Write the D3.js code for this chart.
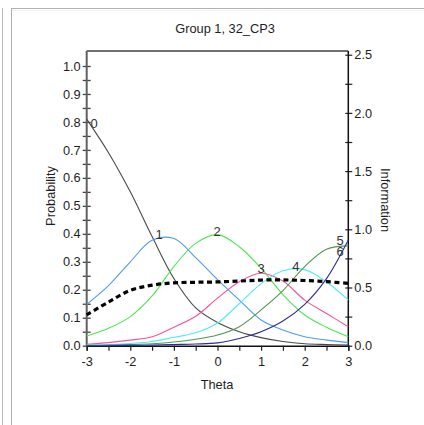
<!DOCTYPE html>
<html lang="en">
<head>
  <meta charset="UTF-8" />
  <title>Group 1, 32_CP3</title>
  <script src="https://d3js.org/d3.v7.min.js"></script>
  <style>
    body { margin: 0; background: #fff; font-family: "Liberation Sans", Arial, sans-serif; }
    svg { display: block; }
    .curve { fill: none; stroke-width: 1.1px; }
    .info { fill: none; stroke: #000; stroke-width: 3.2px; stroke-dasharray: 5 3.5; }
    .lbl { font-size: 13px; fill: #333; text-anchor: middle; }
  </style>
</head>
<body>
  <svg id="chart" width="424" height="425"></svg>

  <script>
    // theta grid and category response probabilities
    const theta = [-3, -2.5, -2, -1.5, -1, -0.5, 0, 0.5, 1, 1.5, 2, 2.5, 3];
    const cat0 = [0.81, 0.69, 0.55, 0.39, 0.24, 0.135, 0.083, 0.05, 0.029, 0.015, 0.007, 0.004, 0.002];
    const cat1 = [0.148, 0.215, 0.30, 0.377, 0.383, 0.315, 0.236, 0.163, 0.092, 0.056, 0.032, 0.02, 0.011];
    const cat2 = [0.035, 0.062, 0.104, 0.178, 0.283, 0.366, 0.397, 0.354, 0.277, 0.183, 0.11, 0.066, 0.032];
    const cat3 = [0.005, 0.011, 0.02, 0.032, 0.066, 0.105, 0.17, 0.229, 0.259, 0.231, 0.163, 0.115, 0.068];
    const cat4 = [0.002, 0.004, 0.008, 0.015, 0.03, 0.046, 0.081, 0.15, 0.222, 0.268, 0.272, 0.228, 0.163];
    const cat5 = [0.001, 0.002, 0.004, 0.007, 0.013, 0.023, 0.038, 0.068, 0.128, 0.197, 0.283, 0.345, 0.357];
    const cat6 = [0, 0, 0.001, 0.002, 0.004, 0.006, 0.01, 0.026, 0.05, 0.088, 0.148, 0.24, 0.378];
    const information = [0.265, 0.375, 0.475, 0.52, 0.54, 0.545, 0.548, 0.555, 0.564, 0.565, 0.56, 0.55, 0.536];

    const categories = ['0', '1', '2', '3', '4', '5', '6'];
    const series = [cat0, cat1, cat2, cat3, cat4, cat5, cat6];
    const colors = ['#4a4a4a', '#4f9bf2', '#4ee84e', '#f7529c', '#4eeef0', '#4f9a4f', '#2c2c9c'];
    // where each category number sits (theta, probability)
    const labelTheta = [-2.83, -1.34, -0.01, 1.0, 1.8, 2.81, 2.81];
    const labelProb = [0.778, 0.383, 0.392, 0.26, 0.267, 0.36, 0.319];

    const xTicks = [-3, -2.5, -2, -1.5, -1, -0.5, 0, 0.5, 1, 1.5, 2, 2.5, 3];
    const probTicks = d3.range(0, 1.0001, 0.05);
    const infoTicks = d3.range(0, 2.5001, 0.25);

    const svg = d3.select('#chart');
    const pLeft = 86.7, pRight = 348.3, pTop = 51, pBottom = 345.7;
    const fontSize = 12.8;

    const x = d3.scaleLinear().domain([-3, 3]).range([pLeft, pRight]);
    const yP = d3.scaleLinear().domain([0, 1]).range([pBottom, 66]);
    const yI = d3.scaleLinear().domain([0, 2.5]).range([pBottom, 54.7]);

    // window frame
    svg.append('line').attr('x1', 2.5).attr('x2', 2.5).attr('y1', 8).attr('y2', 425).attr('stroke', '#b8b8b8');
    svg.append('rect').attr('x', 11.5).attr('y', 8.5).attr('width', 430).attr('height', 430)
      .attr('fill', '#fff').attr('stroke', '#b0b0b0');
    svg.append('line').attr('x1', 12).attr('x2', 424).attr('y1', 10.5).attr('y2', 10.5).attr('stroke', '#f0f0f0');

    // title
    svg.append('text').attr('x', 225).attr('y', 33).attr('text-anchor', 'middle')
      .attr('font-size', fontSize).attr('fill', '#1e1e1e').text('Group 1, 32_CP3');

    // top frame line
    svg.append('line').attr('x1', pLeft).attr('x2', pRight).attr('y1', pTop).attr('y2', pTop)
      .attr('stroke', '#707070').attr('stroke-width', 2);

    function styleTicks(g) {
      g.attr('font-size', fontSize).attr('font-family', '"Liberation Sans", Arial, sans-serif');
      g.selectAll('.tick text').attr('fill', '#1e1e1e');
    }

    // left axis: ticks cross the line
    const gl = svg.append('g').attr('transform', `translate(${pLeft},0)`);
    gl.call(d3.axisLeft(yP).tickValues(probTicks).tickSize(4).tickPadding(2)
      .tickFormat(d => Math.round(d * 100) % 10 === 0 ? d3.format('.1f')(d) : ''));
    gl.append('g').call(d3.axisRight(yP).tickValues(probTicks).tickSize(4).tickFormat(''));
    gl.selectAll('.domain').remove();
    gl.append('line').attr('x1', 0).attr('x2', 0).attr('y1', pTop).attr('y2', pBottom)
      .attr('stroke', '#606060').attr('stroke-width', 2);
    gl.selectAll('.tick line').attr('stroke', '#444').attr('stroke-width', 1.3);
    styleTicks(gl);

    // right axis (information)
    const gr = svg.append('g').attr('transform', `translate(${pRight},0)`);
    gr.call(d3.axisRight(yI).tickValues(infoTicks).tickSize(4).tickPadding(2)
      .tickFormat(d => Math.round(d * 100) % 50 === 0 ? d3.format('.1f')(d) : ''));
    gr.append('g').call(d3.axisLeft(yI).tickValues(infoTicks).tickSize(3).tickFormat(''));
    gr.selectAll('.domain').remove();
    gr.append('line').attr('x1', 0).attr('x2', 0).attr('y1', pTop).attr('y2', pBottom)
      .attr('stroke', '#111').attr('stroke-width', 1.5);
    gr.selectAll('.tick line').attr('stroke', '#222').attr('stroke-width', 1.2);
    styleTicks(gr);

    // bottom axis
    const gb = svg.append('g').attr('transform', `translate(0,${pBottom})`);
    gb.call(d3.axisBottom(x).tickValues(xTicks).tickSize(5).tickPadding(6)
      .tickFormat(d => Number.isInteger(d) ? String(d) : ''));
    gb.select('.domain').attr('stroke', '#111').attr('stroke-width', 1.5);
    gb.selectAll('.tick line').attr('stroke', '#222').attr('stroke-width', 1.2);
    styleTicks(gb);

    // axis titles
    svg.append('text').attr('transform', 'translate(55,196) rotate(-90)').attr('text-anchor', 'middle')
      .attr('font-size', fontSize).attr('fill', '#1e1e1e').text('Probability');
    svg.append('text').attr('transform', 'translate(381,200) rotate(90)').attr('text-anchor', 'middle')
      .attr('font-size', fontSize).attr('fill', '#1e1e1e').text('Information');
    svg.append('text').attr('x', 217).attr('y', 389).attr('text-anchor', 'middle')
      .attr('font-size', fontSize).attr('fill', '#1e1e1e').text('Theta');

    // category curves
    const lineP = d3.line().x((d, i) => x(theta[i])).y(d => yP(d)).curve(d3.curveCatmullRom.alpha(0.5));
    const plot = svg.append('g');
    series.forEach((s, k) => {
      plot.append('path').attr('class', 'curve').attr('stroke', colors[k]).attr('d', lineP(s));
    });

    // information curve
    const lineI = d3.line().x((d, i) => x(theta[i])).y(d => yI(d)).curve(d3.curveCatmullRom.alpha(0.5));
    plot.append('path').attr('class', 'info').attr('d', lineI(information));

    // category labels
    categories.forEach((c, k) => {
      plot.append('text').attr('class', 'lbl')
        .attr('x', x(labelTheta[k])).attr('y', yP(labelProb[k])).text(c);
    });
  </script>
</body>
</html>
